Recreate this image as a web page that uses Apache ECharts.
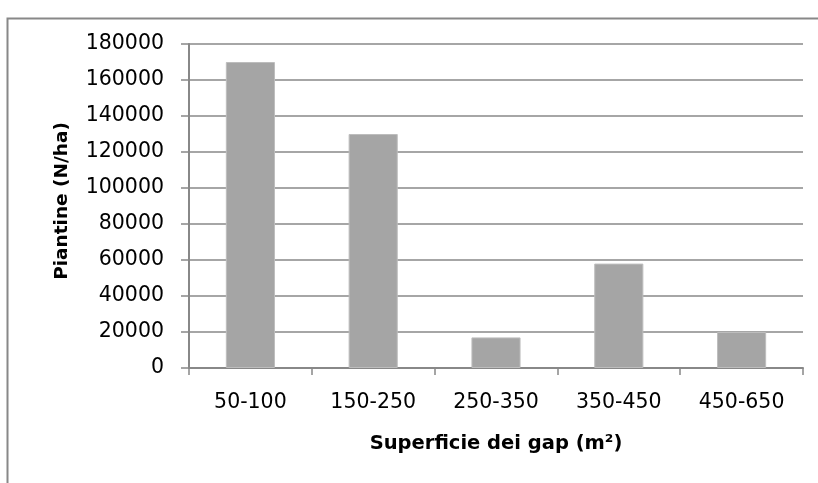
<!DOCTYPE html>
<html>
<head>
<meta charset="utf-8">
<script src="https://cdn.jsdelivr.net/npm/echarts@6/dist/echarts.min.js"></script>
<style>html,body{margin:0;padding:0;background:#fff}#c{width:818px;height:483px}</style>
</head>
<body>
<div id="c"></div>
<script>
const categories = ['50-100', '150-250', '250-350', '350-450', '450-650'];
const plantValues = [170000, 130000, 17000, 58000, 20000];
const yTicks = { min: 0, max: 180000, interval: 20000 };
const xTitle = 'Superficie dei gap (m²)';
const yTitle = 'Piantine (N/ha)';

const chart = echarts.init(document.getElementById('c'), null, { renderer: 'canvas' });
const FONT = 'DejaVu Sans';
chart.setOption({
  animation: false,
  backgroundColor: '#fff',
  graphic: [{
    type: 'rect', left: 5, top: 16,
    shape: { width: 1000, height: 1000 },
    style: { fill: 'none', stroke: '#888', lineWidth: 2 }
  }],
  grid: { left: 189, right: 15, top: 44, bottom: 115, containLabel: false },
  xAxis: {
    type: 'category',
    data: categories,
    axisLine: { lineStyle: { color: '#888', width: 2 } },
    axisTick: { show: true, length: 7, lineStyle: { color: '#888', width: 1.5 } },
    axisLabel: { color: '#000', fontFamily: FONT, fontSize: 20.5, margin: 24 },
    name: xTitle,
    nameLocation: 'middle',
    nameGap: 66,
    nameTextStyle: { color: '#000', fontFamily: FONT, fontSize: 19.5, fontWeight: 'bold' }
  },
  yAxis: {
    type: 'value',
    min: yTicks.min, max: yTicks.max, interval: yTicks.interval,
    axisLine: { show: true, lineStyle: { color: '#888', width: 2 } },
    axisTick: { show: true, length: 8, lineStyle: { color: '#888', width: 1.5 } },
    splitLine: { show: true, lineStyle: { color: '#888', width: 1.5 } },
    axisLabel: { color: '#000', fontFamily: FONT, fontSize: 20.5, margin: 25,
      formatter: v => String(v) },
    name: yTitle,
    nameLocation: 'middle',
    nameGap: 117,
    nameTextStyle: { color: '#000', fontFamily: FONT, fontSize: 18.5, fontWeight: 'bold', padding: [0, 0, 0, 10] }
  },
  series: [{
    type: 'bar',
    data: plantValues,
    barCategoryGap: '60%',
    itemStyle: { color: '#a5a5a5', borderColor: '#bdbdbd', borderWidth: 1 }
  }]
});
</script>
</body>
</html>
